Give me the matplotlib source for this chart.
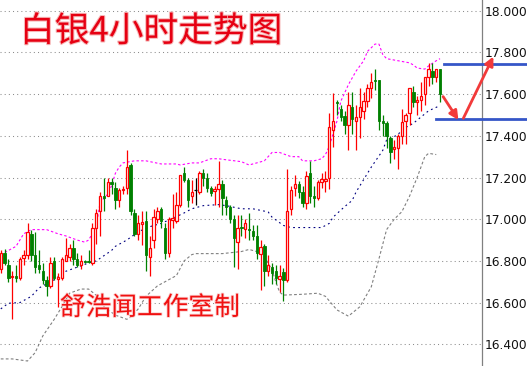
import matplotlib
matplotlib.use("Agg")
import matplotlib.pyplot as plt
import matplotlib.patheffects as pe
import pandas as pd

plt.rcParams["font.family"] = ["DejaVu Sans"]

# 4H candles (open, high, low, close), left to right
opens = [16.76, 16.84, 16.78, 16.725, 16.73, 16.72, 16.815, 16.83, 16.93, 16.83,
         16.78, 16.75, 16.71, 16.68, 16.80, 16.715, 16.72, 16.80, 16.82, 16.86,
         16.81, 16.78, 16.80, 16.80, 16.79, 16.96, 17.04, 17.11, 17.11, 17.18,
         17.15, 17.09, 17.14, 17.15, 17.26, 17.03, 16.93, 16.975, 16.99, 16.82,
         16.90, 17.00, 17.05, 16.96, 16.84, 16.995, 16.99, 17.07, 17.22, 17.19,
         17.11, 17.14, 17.13, 17.22, 17.20, 17.15, 17.135, 17.145, 17.17, 17.09,
         17.06, 17.00, 16.89, 16.965, 16.955, 16.955, 16.945, 16.92, 16.835, 16.87,
         16.75, 16.77, 16.75, 16.715, 16.745, 16.71, 17.05, 17.15, 17.17, 17.13,
         17.08, 17.22, 17.11, 17.10, 17.18, 17.185, 17.20, 17.43, 17.56, 17.53,
         17.495, 17.45, 17.54, 17.47, 17.49, 17.52, 17.565, 17.63, 17.67, 17.67,
         17.47, 17.46, 17.39, 17.335, 17.34, 17.40, 17.47, 17.51, 17.61, 17.56,
         17.57, 17.60, 17.68, 17.71, 17.68, 17.72]
highs = [16.85, 16.855, 16.81, 16.75, 16.78, 16.82, 16.85, 16.98, 16.95, 16.94,
         16.85, 16.79, 16.73, 16.82, 16.82, 16.74, 16.82, 16.91, 16.88, 16.90,
         16.84, 16.83, 16.805, 16.85, 16.98, 17.05, 17.13, 17.20, 17.20, 17.20,
         17.18, 17.15, 17.16, 17.33, 17.27, 17.05, 17.02, 17.04, 17.04, 16.92,
         17.05, 17.06, 17.06, 16.98, 17.01, 17.12, 17.13, 17.21, 17.25, 17.20,
         17.19, 17.20, 17.23, 17.24, 17.22, 17.16, 17.16, 17.28, 17.19, 17.11,
         17.07, 17.02, 17.02, 17.02, 17.00, 17.03, 16.97, 16.97, 16.90, 16.88,
         16.83, 16.79, 16.78, 16.78, 16.765, 17.24, 17.16, 17.21, 17.185, 17.16,
         17.23, 17.28, 17.16, 17.19, 17.22, 17.23, 17.51, 17.605, 17.57, 17.55,
         17.52, 17.61, 17.61, 17.55, 17.63, 17.61, 17.65, 17.70, 17.72, 17.67,
         17.50, 17.47, 17.40, 17.38, 17.41, 17.53, 17.51, 17.63, 17.64, 17.59,
         17.66, 17.68, 17.75, 17.75, 17.72, 17.72]
lows = [16.74, 16.78, 16.70, 16.52, 16.70, 16.71, 16.78, 16.81, 16.80, 16.74,
        16.74, 16.69, 16.63, 16.67, 16.71, 16.58, 16.71, 16.80, 16.80, 16.78,
        16.77, 16.76, 16.79, 16.79, 16.78, 16.88, 16.92, 17.04, 17.11, 17.12,
        17.05, 17.06, 17.12, 17.12, 17.02, 16.92, 16.90, 16.875, 16.75, 16.73,
        16.86, 16.98, 16.96, 16.81, 16.82, 16.96, 16.98, 17.06, 17.18, 17.06,
        17.08, 17.07, 17.12, 17.16, 17.13, 17.11, 17.07, 17.06, 17.02, 17.02,
        16.98, 16.77, 16.76, 16.92, 16.91, 16.90, 16.90, 16.81, 16.66, 16.68,
        16.73, 16.69, 16.69, 16.65, 16.61, 16.70, 17.02, 17.11, 17.10, 17.06,
        17.05, 17.08, 17.06, 17.09, 17.15, 17.13, 17.145, 17.345, 17.50, 17.47,
        17.41, 17.33, 17.41, 17.33, 17.39, 17.48, 17.54, 17.58, 17.62, 17.43,
        17.40, 17.34, 17.27, 17.29, 17.24, 17.36, 17.36, 17.45, 17.54, 17.50,
        17.52, 17.55, 17.64, 17.65, 17.66, 17.56]
closes = [16.84, 16.79, 16.72, 16.73, 16.72, 16.81, 16.83, 16.94, 16.83, 16.77,
          16.76, 16.71, 16.68, 16.79, 16.72, 16.725, 16.81, 16.83, 16.86, 16.81,
          16.78, 16.80, 16.795, 16.795, 16.96, 17.03, 17.11, 17.10, 17.18, 17.17,
          17.09, 17.14, 17.145, 17.25, 17.04, 16.93, 16.98, 16.985, 16.83, 16.86,
          17.01, 17.04, 16.99, 16.84, 17.00, 17.005, 17.07, 17.21, 17.19, 17.09,
          17.13, 17.14, 17.22, 17.20, 17.15, 17.125, 17.145, 17.17, 17.10, 17.06,
          17.00, 16.91, 16.96, 16.96, 16.98, 16.95, 16.92, 16.84, 16.865, 16.75,
          16.78, 16.74, 16.72, 16.73, 16.71, 17.04, 17.14, 17.17, 17.13, 17.08,
          17.205, 17.11, 17.10, 17.18, 17.195, 17.195, 17.44, 17.47, 17.555, 17.49,
          17.45, 17.55, 17.48, 17.49, 17.54, 17.565, 17.63, 17.66, 17.665, 17.47,
          17.46, 17.40, 17.32, 17.345, 17.40, 17.465, 17.50, 17.63, 17.56, 17.57,
          17.59, 17.68, 17.72, 17.68, 17.72, 17.60]

# Bollinger bands, sampled at these candle numbers
upper_idx = [0, 2, 4, 6, 8, 12, 15, 17, 20, 22, 23, 25, 26, 28, 29, 30, 31, 32, 35, 38,
             42, 46, 47, 50, 52, 55, 57, 59, 63, 65, 67, 69, 71, 73, 76, 78, 79, 82, 84, 85,
             86, 87, 88, 89, 91, 93, 95, 96, 98, 99, 100, 101, 104, 107, 108, 109, 111, 112, 114, 115]
upper_band = [16.83, 16.85, 16.87, 16.93, 16.95, 16.95, 16.93, 16.92, 16.90, 16.89,
              16.90, 16.965, 17.08, 17.12, 17.16, 17.22, 17.25, 17.27, 17.28, 17.28,
              17.265, 17.265, 17.26, 17.27, 17.27, 17.29, 17.29, 17.285, 17.276, 17.26,
              17.27, 17.28, 17.32, 17.32, 17.30, 17.30, 17.28, 17.28, 17.29, 17.31,
              17.35, 17.41, 17.47, 17.565, 17.645, 17.71, 17.76, 17.805, 17.84, 17.84,
              17.79, 17.77, 17.76, 17.75, 17.74, 17.725, 17.72, 17.735, 17.76, 17.77]
mid_idx = [0, 2, 5, 8, 10, 14, 17, 20, 23, 25, 29, 30, 33, 36, 39, 42, 45, 48, 50, 53,
           57, 59, 63, 66, 70, 71, 74, 76, 84, 86, 87, 90, 92, 93, 95, 97, 100, 101, 104, 105,
           108, 110, 112, 115]
mid_band = [16.57, 16.597, 16.60, 16.63, 16.67, 16.71, 16.75, 16.77, 16.79, 16.80,
            16.85, 16.87, 16.90, 16.94, 16.964, 16.98, 17.004, 17.03, 17.05, 17.065,
            17.07, 17.065, 17.05, 17.05, 17.035, 17.01, 16.97, 16.96, 16.96, 16.98,
            17.01, 17.06, 17.09, 17.13, 17.19, 17.25, 17.33, 17.38, 17.405, 17.43,
            17.46, 17.49, 17.52, 17.545]
lower_idx = [0, 3, 5, 7, 9, 11, 14, 16, 18, 21, 23, 25, 27, 30, 33, 34, 36, 38, 41, 44,
             46, 48, 50, 51, 58, 63, 65, 67, 69, 71, 72, 73, 74, 79, 83, 85, 88, 91, 94, 97,
             99, 101, 103, 105, 107, 109, 111, 112, 114]
lower_band = [16.33, 16.33, 16.325, 16.32, 16.36, 16.44, 16.52, 16.58, 16.645, 16.665,
              16.665, 16.635, 16.58, 16.54, 16.52, 16.53, 16.57, 16.63, 16.68, 16.71,
              16.73, 16.80, 16.83, 16.835, 16.835, 16.845, 16.855, 16.845, 16.82, 16.757,
              16.70, 16.65, 16.636, 16.64, 16.645, 16.63, 16.565, 16.535, 16.58, 16.676,
              16.81, 16.95, 17.00, 17.036, 17.11, 17.20, 17.30, 17.316, 17.31]

# drawn levels and the forecast arrows (candle number, price)
levels = [17.745, 17.482]
level_start = [116.0, 114.0]
arrow_from = [(115.8, 17.588), (121.1, 17.484)]
arrow_to = [(119.8, 17.476), (128.95, 17.78)]

price_ticks = [16.4, 16.6, 16.8, 17.0, 17.2, 17.4, 17.6, 17.8, 18.0]
title = "白银4小时走势图"
watermark = "舒浩闻工作室制"

df = pd.DataFrame({"open": opens, "high": highs, "low": lows, "close": closes})
df["n"] = range(len(df))

RED = "#ff0000"
GREEN = "#008000"

fig = plt.figure(figsize=(5.27, 3.66), dpi=100)
ax = fig.add_axes([0, 0, 481.7 / 527, 1])

ax.set_xlim(-0.2, 125.9)
ax.set_ylim(16.296, 18.0513)

# grid and right price axis
ax.set_yticks(price_ticks)
ax.set_yticklabels([f"{t:.3f}" for t in price_ticks])
ax.yaxis.tick_right()
ax.tick_params(axis="y", length=0, pad=2, labelsize=8.8, labelcolor="#111111")
ax.set_xticks([])
ax.yaxis.grid(True, color="#8c8c8c", linestyle=(0, (1, 3)), linewidth=0.75)
for side in ["left", "top", "bottom"]:
    ax.spines[side].set_visible(False)
ax.spines["right"].set_color("#808080")
ax.spines["right"].set_linewidth(0.9)
ax.set_axisbelow(True)

# bands
ax.plot(upper_idx, upper_band, color="#ff00ff", lw=0.8, ls=(0, (2.2, 2)), zorder=2)
ax.plot(mid_idx, mid_band, color="#000080", lw=0.8, ls=(0, (1.6, 3)), zorder=2)
ax.plot(lower_idx, lower_band, color="#808080", lw=0.8, ls=(0, (2.5, 2)), zorder=2)

# candles
up = df[df["close"] > df["open"]]
down = df[df["close"] < df["open"]]
flat = df[df["close"] == df["open"]]

ax.vlines(up["n"], up["low"], up["high"], color=RED, lw=0.9, zorder=3)
ax.vlines(down["n"], down["low"], down["high"], color=GREEN, lw=0.9, zorder=3)
ax.vlines(flat["n"], flat["low"], flat["high"], color="black", lw=0.9, zorder=3)

up_h = (up["close"] - up["open"]).clip(lower=0.004)
ax.bar(up["n"], up_h, bottom=up["open"], width=0.62, color="white",
       edgecolor=RED, linewidth=0.9, zorder=4)
down_h = (down["open"] - down["close"]).clip(lower=0.004)
ax.bar(down["n"], down_h, bottom=down["close"], width=0.62, color=GREEN,
       edgecolor=GREEN, linewidth=0.6, zorder=4)
ax.hlines(flat["close"], flat["n"] - 0.4, flat["n"] + 0.4, color="black", lw=0.9, zorder=4)

# support / resistance lines
for lv, x0 in zip(levels, level_start):
    ax.plot([x0, 137.9], [lv, lv], color="#3556c8", lw=2.0, clip_on=False, zorder=5)

for a, b in zip(arrow_from, arrow_to):
    ax.annotate("", xy=b, xytext=a, annotation_clip=False,
                arrowprops=dict(arrowstyle="-|>", color="#f23a3a", lw=2.0,
                                mutation_scale=13, shrinkA=0, shrinkB=0),
                zorder=6)

shadow = [pe.withStroke(linewidth=1.5, foreground="#f6b8b8")]
fig.text(20 / 527, 1 - 32 / 366, title, family=["Noto Sans CJK SC", "DejaVu Sans"],
         fontsize=25, fontweight="medium", color="#e60012", ha="left", va="center",
         path_effects=shadow)
fig.text(60 / 527, 1 - 308 / 366, watermark, family=["Noto Sans CJK SC", "DejaVu Sans"],
         fontsize=18.5, color="#f01010", ha="left", va="center",
         path_effects=[pe.withStroke(linewidth=1.2, foreground="#fbd0d0")])

fig.savefig("out.png", dpi=100)
